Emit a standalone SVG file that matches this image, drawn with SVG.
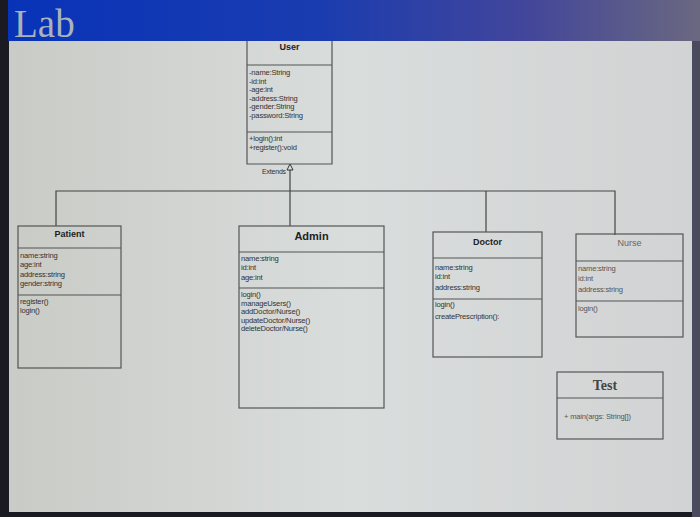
<svg xmlns="http://www.w3.org/2000/svg" width="700" height="517" viewBox="0 0 700 517">
<defs>
<linearGradient id="hdr" x1="0" y1="0" x2="1" y2="0">
<stop offset="0" stop-color="#0833b8"/>
<stop offset="0.45" stop-color="#1a3cb0"/>
<stop offset="0.75" stop-color="#43469a"/>
<stop offset="1" stop-color="#6a6880"/>
</linearGradient>
<linearGradient id="bg" x1="0" y1="0" x2="1" y2="0">
<stop offset="0" stop-color="#c9cbc6"/>
<stop offset="0.5" stop-color="#d9dddc"/>
<stop offset="1" stop-color="#d2d3d4"/>
</linearGradient>
</defs>
<style>
.box{fill:none;stroke:#555;stroke-width:1.2}
.sep{stroke:#555;stroke-width:1.2}
.t{font-family:"Liberation Sans",Arial,sans-serif;font-size:7.6px;fill:#333;letter-spacing:-0.2px}
.h{font-family:"Liberation Sans",Arial,sans-serif;font-size:9px;font-weight:bold;fill:#222;text-anchor:middle}
.con{fill:none;stroke:#444;stroke-width:1.2}
.arrow{fill:#e0e2e2;stroke:#333;stroke-width:1}
</style>
<rect x="0" y="0" width="700" height="517" fill="#1a1a22"/>
<rect x="9" y="41" width="683" height="471" fill="url(#bg)"/>
<rect x="692" y="41" width="8" height="476" fill="#4a4a5e"/>
<rect x="8" y="0" width="692" height="41" fill="url(#hdr)"/>
<text x="14" y="37" font-family="Liberation Serif,'Times New Roman',serif" font-size="39" fill="#aab2ba">Lab</text>

<g id="connectors">
<path class="con" d="M290,169 L290,226"/>
<path class="arrow" d="M290,164 L293,170 L287,170 Z"/>
<path class="con" d="M56,226 L56,191 L615,191 L615,235"/>
<path class="con" d="M486,191 L486,232"/>
<text x="262" y="174" class="t" style="font-size:7px">Extends</text>
</g>

<g id="user">
<path class="box" d="M247,41 L247,164 L332,164 L332,41"/>
<text class="h" x="289.5" y="50">User</text>
<line class="sep" x1="247" y1="65" x2="332" y2="65"/>
<text class="t" x="249" y="75">-name:String</text>
<text class="t" x="249" y="83.5">-id:int</text>
<text class="t" x="249" y="92">-age:int</text>
<text class="t" x="249" y="100.5">-address:String</text>
<text class="t" x="249" y="109">-gender:String</text>
<text class="t" x="249" y="117.5">-password:String</text>
<line class="sep" x1="247" y1="132" x2="332" y2="132"/>
<text class="t" x="249" y="141">+login():int</text>
<text class="t" x="249" y="150">+register():void</text>
</g>

<g id="patient">
<rect class="box" x="18" y="226" width="103" height="142"/>
<text class="h" x="69.5" y="237">Patient</text>
<line class="sep" x1="18" y1="248" x2="121" y2="248"/>
<text class="t" x="20" y="258">name:string</text>
<text class="t" x="20" y="267">age:int</text>
<text class="t" x="20" y="277">address:string</text>
<text class="t" x="20" y="286">gender:string</text>
<line class="sep" x1="18" y1="295" x2="121" y2="295"/>
<text class="t" x="20" y="304">register()</text>
<text class="t" x="20" y="313">login()</text>
</g>

<g id="admin">
<rect class="box" x="239" y="226" width="145" height="182"/>
<text class="h" x="311.5" y="240" style="font-size:11px">Admin</text>
<line class="sep" x1="239" y1="252" x2="384" y2="252"/>
<text class="t" x="241" y="261">name:string</text>
<text class="t" x="241" y="270">id:int</text>
<text class="t" x="241" y="280">age:int</text>
<line class="sep" x1="239" y1="288" x2="384" y2="288"/>
<text class="t" x="241" y="297">login()</text>
<text class="t" x="241" y="305.5">manageUsers()</text>
<text class="t" x="241" y="314">addDoctor/Nurse()</text>
<text class="t" x="241" y="322.5">updateDoctor/Nurse()</text>
<text class="t" x="241" y="331">deleteDoctor/Nurse()</text>
</g>

<g id="doctor">
<rect class="box" x="433" y="232" width="109" height="125"/>
<text class="h" x="487.5" y="245">Doctor</text>
<line class="sep" x1="433" y1="258" x2="542" y2="258"/>
<text class="t" x="435" y="270">name:string</text>
<text class="t" x="435" y="279">id:int</text>
<text class="t" x="435" y="290">address:string</text>
<line class="sep" x1="433" y1="299" x2="542" y2="299"/>
<text class="t" x="435" y="307">login()</text>
<text class="t" x="435" y="319">createPrescription():</text>
</g>

<g id="nurse">
<rect class="box" x="576" y="234" width="107" height="103"/>
<text class="h" x="629.5" y="246" style="font-weight:normal;fill:#666">Nurse</text>
<line class="sep" x1="576" y1="261" x2="683" y2="261"/>
<text class="t" x="578" y="271" style="fill:#555">name:string</text>
<text class="t" x="578" y="281" style="fill:#555">id:int</text>
<text class="t" x="578" y="292" style="fill:#555">address:string</text>
<line class="sep" x1="576" y1="301" x2="683" y2="301"/>
<text class="t" x="578" y="311" style="fill:#555">login()</text>
</g>

<g id="test">
<rect class="box" x="557" y="372" width="106" height="67"/>
<text x="605" y="390" font-family="Liberation Serif,'Times New Roman',serif" font-size="14" font-weight="bold" fill="#444" text-anchor="middle">Test</text>
<line class="sep" x1="557" y1="398" x2="663" y2="398"/>
<text class="t" x="564" y="419" style="fill:#555">+  main(args: String[])</text>
</g>
</svg>
